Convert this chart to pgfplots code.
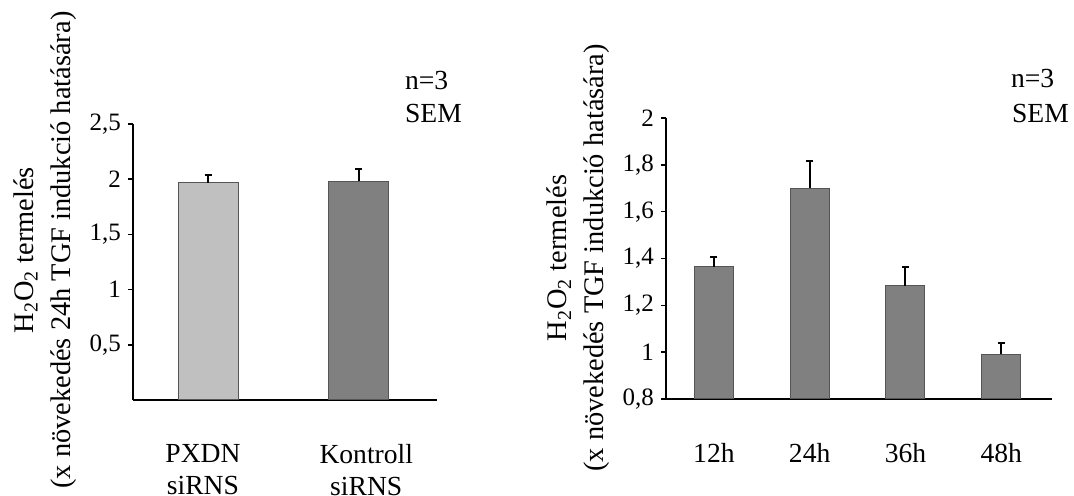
\documentclass[border=0pt]{standalone}
\usepackage{fontspec}
\setmainfont{Liberation Serif}
\usepackage{pgfplots}
\pgfplotsset{compat=1.18}
\definecolor{lightbar}{HTML}{C0C0C0}
\definecolor{darkbar}{HTML}{808080}
\definecolor{baredge}{HTML}{555555}
\newcommand{\lblfont}{\fontsize{13.8}{16}\selectfont}
\newcommand{\ylblfont}{\fontsize{14.2}{18.5}\selectfont}
\pgfplotsset{
 mystyle/.style={
  scale only axis,
  ybar,
  axis x line=bottom, axis y line=left,
  axis line style={-, line width=1pt, black},
  xtick style={draw=none},
  ytick style={line width=0.8pt, black},
  major tick length=2.5pt,
  tick align=outside,
  yticklabel style={font=\fontsize{12.5}{14}\selectfont},
  /pgf/number format/assume math mode=true,
  /pgf/number format/use comma,
  xticklabel style={font=\lblfont, align=center, anchor=north, yshift=-16pt},
  ylabel style={font=\ylblfont, align=center, anchor=center},
  error bars/y dir=plus, error bars/y explicit,
  error bars/error bar style={line width=1pt, black},
  error bars/error mark options={rotate=90, mark size=1.75pt, line width=1pt, black},
 }
}
\begin{document}
\begin{tikzpicture}
\useasboundingbox (0,0) rectangle (537pt,248pt);
% left chart
\begin{axis}[mystyle,
  at={(66.5pt,48pt)}, anchor=south west,
  width=152pt, height=138pt,
  xmin=-0.5, xmax=1.52, ymin=0, ymax=2.5,
  ytick={0.5,1,1.5,2,2.5},
  bar width=30pt,
  xtick={-0.035,1.05},
  xticklabels={{PXDN\\siRNS},{Kontroll\\siRNS}},
  ylabel={H\textsubscript{2}O\textsubscript{2} termelés\\(x növekedés 24h TGF indukció hatására)},
  ylabel style={at={(axis description cs:-0.29,0.543)}},
]
\addplot[fill=lightbar, draw=baredge, line width=0.5pt, bar shift=0pt]
  coordinates {(0,1.97) +- (0,0.07)};
\addplot[fill=darkbar, draw=baredge, line width=0.5pt, bar shift=0pt]
  coordinates {(1,1.98) +- (0,0.11)};
\end{axis}
\node[font=\lblfont, anchor=base west] at (199pt,203pt) {n=3};
\node[font=\lblfont, anchor=base west] at (199pt,186.5pt) {SEM};
% right chart
\begin{axis}[mystyle,
  at={(333pt,48.5pt)}, anchor=south west,
  width=193pt, height=140.5pt,
  xmin=-0.5, xmax=3.53, ymin=0.8, ymax=2,
  ytick={0.8,1,1.2,1.4,1.6,1.8,2},
  bar width=19.5pt,
  xtick={0,1,2,3},
  xticklabels={12h,24h,36h,48h},
  ylabel={H\textsubscript{2}O\textsubscript{2} termelés\\(x növekedés TGF indukció hatására)},
  ylabel style={at={(axis description cs:-0.227,0.502)}},
]
\addplot[fill=darkbar, draw=baredge, line width=0.5pt, bar shift=0pt]
  coordinates {(0,1.365) +- (0,0.04) (1,1.70) +- (0,0.115) (2,1.283) +- (0,0.08) (3,0.991) +- (0,0.05)};
\end{axis}
\node[font=\lblfont, anchor=base west] at (502pt,204pt) {n=3};
\node[font=\lblfont, anchor=base west] at (502.5pt,186.6pt) {SEM};
\end{tikzpicture}
\end{document}
